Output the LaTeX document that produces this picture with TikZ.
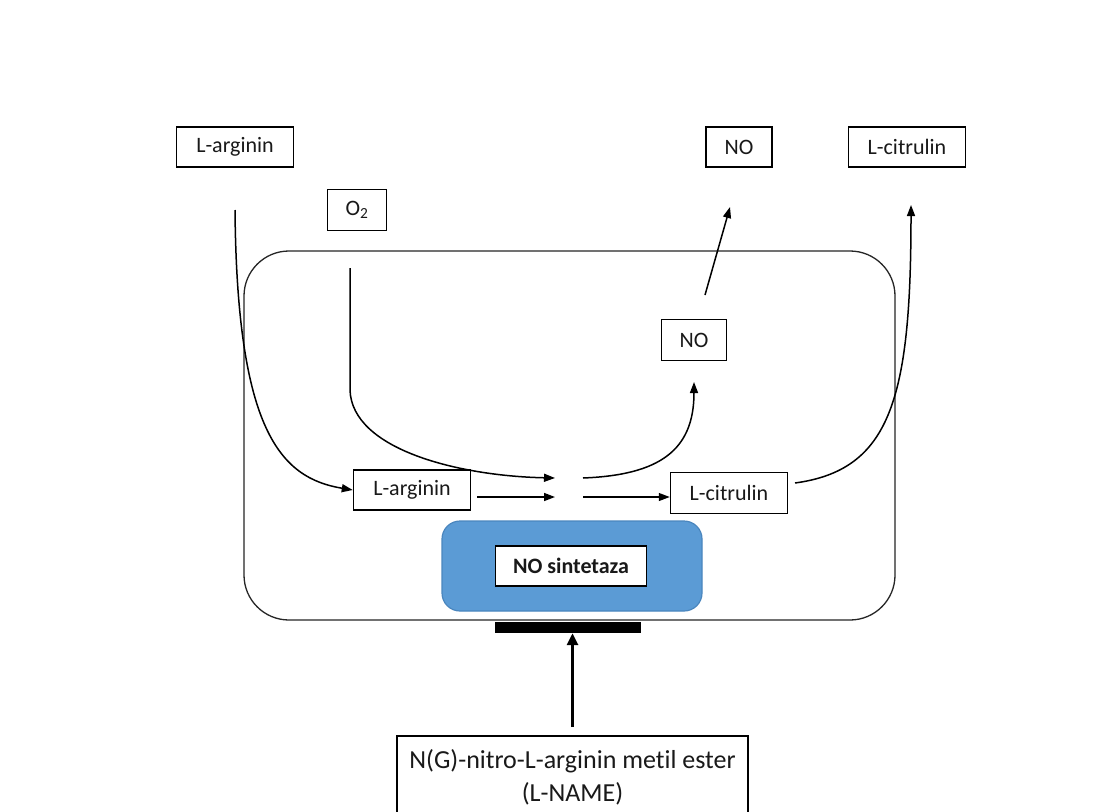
\documentclass[tikz,border=0pt]{standalone}
\usepackage{fontspec}
\setmainfont[Ligatures=NoCommon]{Carlito}
\usetikzlibrary{arrows.meta}
\definecolor{enzblue}{HTML}{5B9BD5}
\definecolor{enzborder}{HTML}{4A86BE}
\tikzset{
  lbl/.style={draw=black, line width=1.5pt, fill=white, font=\fontsize{22}{26}\selectfont, text=black!90, minimum height=40pt, inner sep=2pt},
  conn/.style={line width=1.5pt, -{Triangle[length=11pt,width=8pt]}},
  thinconn/.style={line width=1.2pt, -{Triangle[length=11pt,width=8pt]}}
}
\begin{document}
\begin{tikzpicture}[x=1pt,y=-1pt]
\useasboundingbox (0,0) rectangle (1110,811);
\clip (0,0) rectangle (1110,811);
\fill[white] (0,0) rectangle (1110,811);
% cell
\draw[line width=1.3pt, black!85, rounded corners=45pt] (244,251) rectangle (895,620);
% enzyme
\draw[line width=1.2pt, draw=enzborder, fill=enzblue, rounded corners=18pt] (442,521) rectangle (702,611);
\node[lbl, minimum width=151pt, font=\fontsize{22}{26}\selectfont\bfseries] (nos) at (571,566) {NO sintetaza};
% outer nodes
\node[lbl, minimum width=117pt] (argtop) at (235,147) {L-arginin};
\node[lbl, minimum width=59pt, minimum height=41pt] (o2) at (357,210) {O\textsubscript{2}};
\node[lbl, minimum width=66pt] (notop) at (739,147) {NO};
\node[lbl, minimum width=117pt] (cittop) at (907,147) {L-citrulin};
% inner nodes
\node[lbl, minimum width=65pt, minimum height=41pt] (noin) at (694,340) {NO};
\node[lbl, minimum width=117pt] (argin) at (412,490) {L-arginin};
\node[lbl, minimum width=117pt, minimum height=41pt] (citin) at (729,493) {L-citrulin};
% inhibitor
\node[lbl, minimum width=351pt, anchor=north, align=center, inner ysep=14pt, font=\fontsize{26}{33}\selectfont] (lname) at (572.5,735) {N(G)-nitro-L-arginin metil ester\\(L-NAME)};
\node[fill=black, minimum width=146pt, minimum height=11pt, inner sep=0pt] (bar) at (568,627.5) {};
% helper coordinates
\coordinate (a1) at (235,210);
\coordinate (o2s) at (350,268);
\coordinate (mid1) at (555,478);
\coordinate (mid2) at (555,497);
\coordinate (m3) at (583,478);
\coordinate (m4) at (583,497);
\coordinate (noout) at (705,295);
\coordinate (citout) at (795,483);
% connectors
\draw[conn] (a1) .. controls (237,430) and (280,478) .. (argin.west);
\draw[conn] (o2s) -- (350,390) .. controls (352,450) and (460,476) .. (mid1);
\draw[conn] (argin.east |- mid2) ++(6,0) -- (mid2);
\draw[thinconn] (m4) -- (citin.west |- m4);
\draw[conn] (m3) .. controls (660,475) and (694,450) .. (noin.south |- 0,382);
\draw[conn] (noout) -- (730,207);
\draw[conn] (citout) .. controls (890,470) and (911,400) .. (911,205);
\draw[line width=3pt, -{Triangle[length=12pt,width=11pt]}] (lname.north) ++(0,-8) -- (lname.north |- bar.south);
\end{tikzpicture}
\end{document}
